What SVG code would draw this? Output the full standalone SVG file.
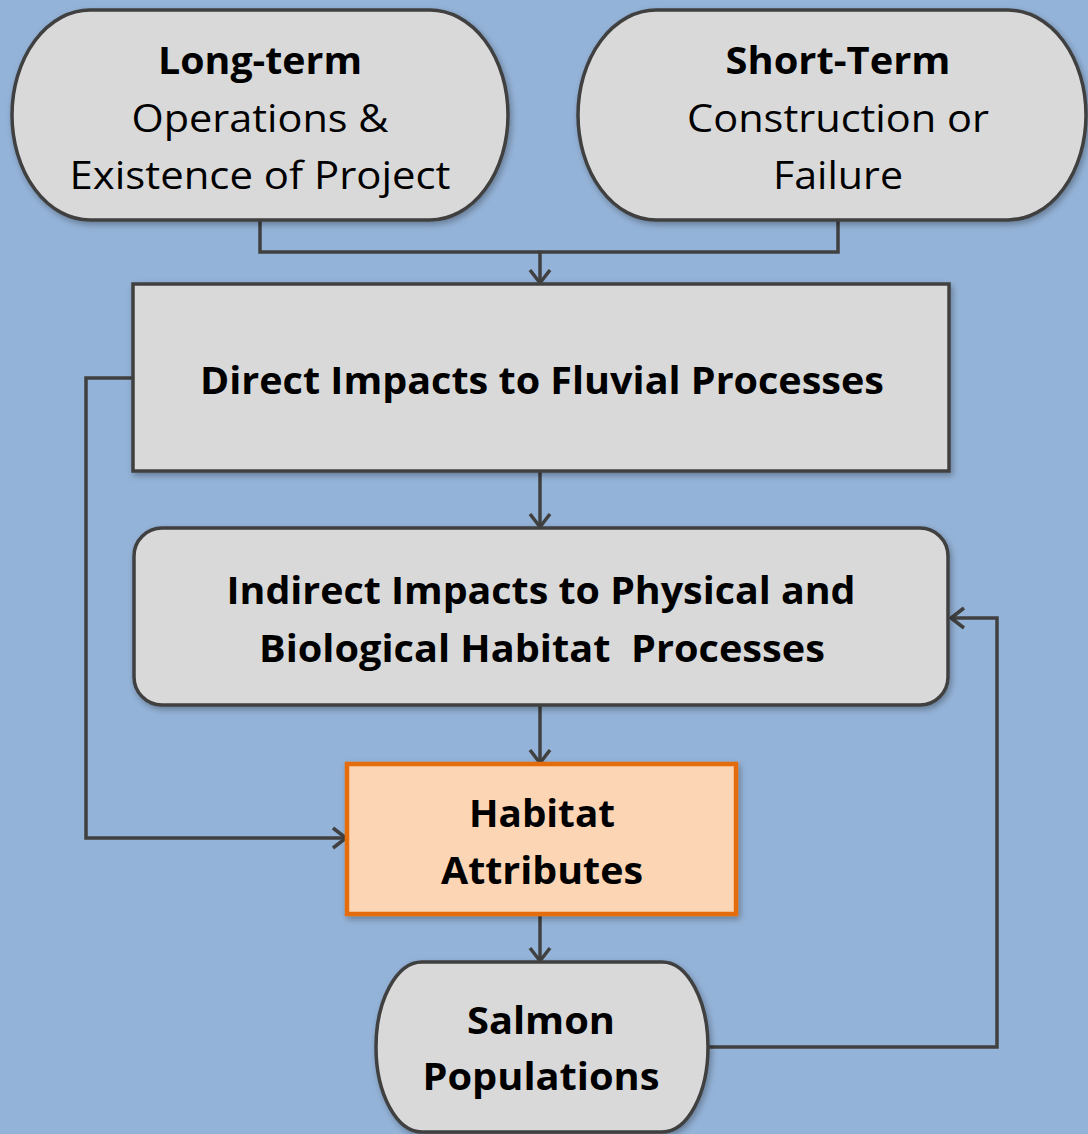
<svg xmlns="http://www.w3.org/2000/svg" width="1088" height="1134" viewBox="0 0 1088 1134">
<style>
.node{fill:#D9D9D9;stroke:#404040;stroke-width:3.5}
.hab{fill:#FCD5B5;stroke:#E46C0A;stroke-width:4.5}
.t{font-family:"Open Sans","Noto Sans","Liberation Sans",sans-serif;font-size:38px;fill:#000;text-anchor:middle;white-space:pre}
.b{font-weight:bold}
.c{fill:none;stroke:#404040;stroke-width:3.5}
</style>
<defs>
<filter id="sh" x="-10%" y="-10%" width="120%" height="120%">
<feDropShadow dx="2" dy="3" stdDeviation="3" flood-color="#000" flood-opacity="0.3"/>
</filter>
<marker id="ar" markerWidth="20" markerHeight="24" refX="15" refY="12" orient="auto" markerUnits="userSpaceOnUse">
<path d="M2,2 L15,12 L2,22" fill="none" stroke="#404040" stroke-width="3.5"/>
</marker>
</defs>
<rect width="1088" height="1134" fill="#94B3D8"/>
<g id="connectors">
<path class="c" d="M260,220 V252 H540"/>
<path class="c" d="M838,220 V252 H540 V283" marker-end="url(#ar)"/>
<path class="c" d="M540,471 V527" marker-end="url(#ar)"/>
<path class="c" d="M540,705 V763" marker-end="url(#ar)"/>
<path class="c" d="M540,914 V961" marker-end="url(#ar)"/>
<path class="c" d="M133,378 H86 V838 H346" marker-end="url(#ar)"/>
<path class="c" d="M708,1047 H997 V618 H951" marker-end="url(#ar)"/>
</g>
<g id="longterm">
<rect class="node" filter="url(#sh)" x="12" y="10" width="496" height="210" rx="78" ry="105"/>
<text class="t b" x="260" y="74" textLength="204" lengthAdjust="spacingAndGlyphs">Long-term</text>
<text class="t" x="260" y="132" textLength="257" lengthAdjust="spacingAndGlyphs">Operations &amp;</text>
<text class="t" x="260" y="189" textLength="381" lengthAdjust="spacingAndGlyphs">Existence of Project</text>
</g>
<g id="shortterm">
<rect class="node" filter="url(#sh)" x="578" y="10" width="508" height="210" rx="78" ry="105"/>
<text class="t b" x="838" y="74" textLength="225" lengthAdjust="spacingAndGlyphs">Short-Term</text>
<text class="t" x="838" y="132" textLength="302" lengthAdjust="spacingAndGlyphs">Construction or</text>
<text class="t" x="838" y="189" textLength="130" lengthAdjust="spacingAndGlyphs">Failure</text>
</g>
<g id="direct">
<rect class="node" filter="url(#sh)" x="133" y="284" width="816" height="187"/>
<text class="t b" x="542" y="394" textLength="684" lengthAdjust="spacingAndGlyphs">Direct Impacts to Fluvial Processes</text>
</g>
<g id="indirect">
<rect class="node" filter="url(#sh)" x="134" y="528" width="814" height="177" rx="28"/>
<text class="t b" x="541" y="604" textLength="629" lengthAdjust="spacingAndGlyphs">Indirect Impacts to Physical and</text>
<text class="t b" x="542" y="662" textLength="566" lengthAdjust="spacingAndGlyphs">Biological Habitat  Processes</text>
</g>
<g id="habitat">
<rect class="hab" filter="url(#sh)" x="347" y="764" width="389" height="150"/>
<text class="t b" x="542" y="827" textLength="146" lengthAdjust="spacingAndGlyphs">Habitat</text>
<text class="t b" x="542" y="884" textLength="202" lengthAdjust="spacingAndGlyphs">Attributes</text>
</g>
<g id="salmon">
<rect class="node" filter="url(#sh)" x="376" y="962" width="332" height="170" rx="46" ry="85"/>
<text class="t b" x="541" y="1034" textLength="148" lengthAdjust="spacingAndGlyphs">Salmon</text>
<text class="t b" x="541" y="1090" textLength="237" lengthAdjust="spacingAndGlyphs">Populations</text>
</g>
</svg>
